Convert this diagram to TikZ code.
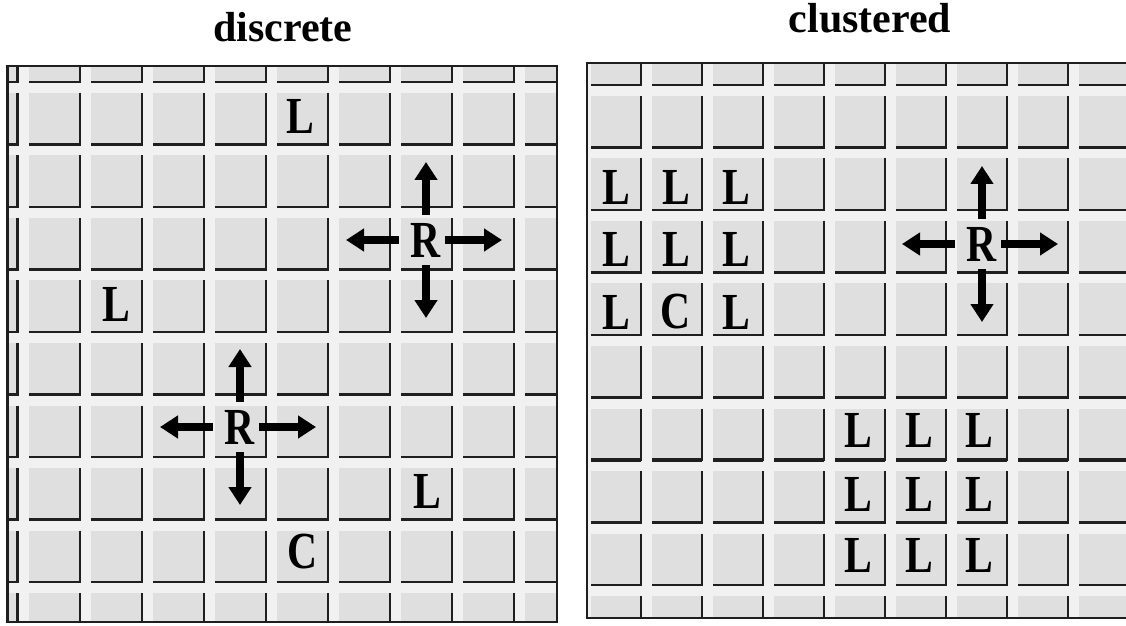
\documentclass[tikz,border=0pt]{standalone}
\usepackage{fontspec}
\setmainfont{Liberation Serif}
\usetikzlibrary{arrows.meta}

\tikzset{
  cell/.style={fill=gray!25},
  edge/.style={line width=1.1pt, draw=black!88},
  frame/.style={line width=1.1pt, draw=black!88},
  ltr/.style={font=\bfseries\fontsize{26}{26}\selectfont, inner sep=0pt},
  title/.style={font=\bfseries\fontsize{21}{21}\selectfont},
  move/.style={line width=4.2pt, -{Triangle[length=9pt, width=11pt]}, shorten <=4pt},
}
\newcommand\nar[1]{\scalebox{0.8}[1]{#1}}

\begin{document}
\begin{tikzpicture}[x=0.5pt, y=-0.5pt]
	\useasboundingbox (0,0) rectangle (1126,626);
	\fill[white] (0,0) rectangle (1126,626);

	% titles
	\node[title, anchor=base] (tdis) at (283,42) {discrete};
	\node[title, anchor=base] (tclu) at (870,33) {clustered};

	% left grid
	\begin{scope}
		\clip (7.5,66) rectangle (557,622);
		\fill[gray!11] (7.5,66) rectangle (557,622);
		\foreach \c in {0,...,9} \foreach \r in {0,...,9} {
			\fill[cell] ({17.5+62.1*(\c-1)+11}, {82+62.5*(\r-1)+11}) rectangle ({17.5+62.1*\c}, {82+62.5*\r});
			\draw[edge] ({17.5+62.1*\c}, {82+62.5*(\r-1)+11}) -- ({17.5+62.1*\c}, {82+62.5*\r}) -- ({17.5+62.1*(\c-1)+11}, {82+62.5*\r});
		}
	\end{scope}
	\draw[frame] (7.5,66) rectangle (557,622);

	% right grid
	\begin{scope}
		\clip (587,63) rectangle (1140,618);
		\fill[gray!11] (587,63) rectangle (1140,618);
		\foreach \c in {0,...,8} \foreach \r in {0,...,9} {
			\fill[cell] ({641+61*(\c-1)+11}, {85+62.5*(\r-1)+11}) rectangle ({641+61*\c}, {85+62.5*\r});
			\draw[edge] ({641+61*\c}, {85+62.5*(\r-1)+11}) -- ({641+61*\c}, {85+62.5*\r}) -- ({641+61*(\c-1)+11}, {85+62.5*\r});
		}
		\foreach \c in {0,...,8}
			\draw[edge, line width=2pt] ({641+61*(\c-1)+11}, 460) -- ({641+61*\c}, 460);
	\end{scope}
	\draw[frame] (587,63) rectangle (1140,618);

	% discrete
	\node[ltr] (l1) at (300,116) {\nar{L}};
	\node[ltr] (l2) at (116,304) {\nar{L}};
	\node[ltr] (l3) at (427,491) {\nar{L}};
	\node[ltr] (c1) at (303,552) {\nar{C}};
	\node[ltr] (r1) at (426,240) {\nar{R}};
	\node[ltr] (r2) at (240,427) {\nar{R}};

	% clustered
	\foreach \x/\y [count=\i] in {616/187, 676/187, 736/187, 616/249, 676/249, 736/249, 616/312, 736/312,
		858/430, 919/430, 979/430, 858/494, 919/494, 979/494, 858/555, 919/555, 979/555}
		\node[ltr] (q\i) at (\x,\y) {\nar{L}};
	\node[ltr] (c2) at (676,312) {\nar{C}};
	\node[ltr] (r3) at (982,244) {\nar{R}};

	% moves
	\foreach \n in {r1,r2,r3} {
		\path (\n) ++(0,-78) coordinate (\n-up) (\n) ++(0,78) coordinate (\n-dn)
			(\n) ++(-80,0) coordinate (\n-lt) (\n) ++(76,0) coordinate (\n-rt);
		\draw[move] (\n.north) -- (\n-up);
		\draw[move] (\n.south) -- (\n-dn);
		\draw[move, shorten <=6pt] (\n.west) -- (\n-lt);
		\draw[move, shorten <=2pt] (\n.east) -- (\n-rt);
	}
\end{tikzpicture}
\end{document}
